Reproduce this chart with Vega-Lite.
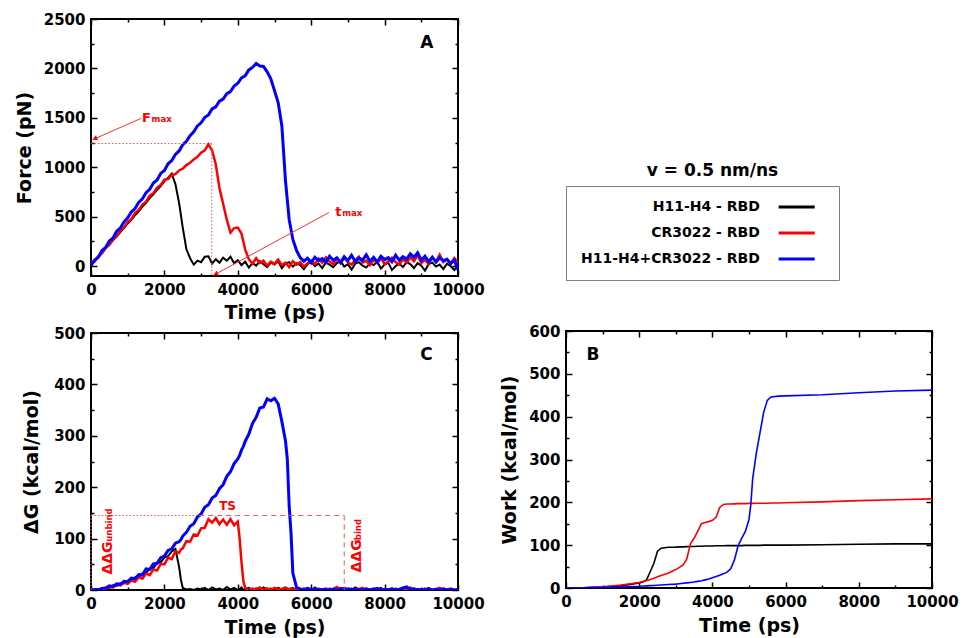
{
 "$schema": "https://vega.github.io/schema/vega-lite/v6.json",
 "padding": {"left": 14, "top": 11, "right": 5, "bottom": 2},
 "background": "white",
 "config": {
  "font": "DejaVu Sans",
  "view": {"stroke": "black", "strokeWidth": 2},
  "axis": {"grid": false, "domain": false, "labelFont": "DejaVu Sans", "labelFontWeight": "bold", "labelFontSize": 15, "labelColor": "black", "titleFont": "DejaVu Sans", "titleFontWeight": "bold", "titleFontSize": 19, "titleColor": "black", "tickColor": "black", "tickWidth": 1.5, "labelFlush": false, "labelOverlap": false, "labelPadding": 12},
  "text": {"font": "DejaVu Sans", "fontWeight": "bold"},
  "title": {"font": "DejaVu Sans", "fontWeight": "bold", "color": "black"}
 },
 "datasets": {
  "force": [
   {"t":0,"h11":10,"cr":35,"both":5},{"t":100,"h11":50,"cr":48,"both":62},{"t":200,"h11":95,"cr":100,"both":90},{"t":300,"h11":135,"cr":128,"both":158},{"t":400,"h11":180,"cr":185,"both":190},{"t":500,"h11":218,"cr":215,"both":255},{"t":600,"h11":262,"cr":272,"both":285},{"t":700,"h11":302,"cr":300,"both":352},{"t":800,"h11":345,"cr":362,"both":385},{"t":900,"h11":385,"cr":392,"both":448},
   {"t":1000,"h11":432,"cr":448,"both":488},{"t":1100,"h11":468,"cr":478,"both":548},{"t":1200,"h11":515,"cr":540,"both":582},{"t":1300,"h11":555,"cr":568,"both":645},{"t":1400,"h11":602,"cr":622,"both":680},{"t":1500,"h11":640,"cr":652,"both":742},{"t":1600,"h11":688,"cr":712,"both":778},{"t":1700,"h11":725,"cr":738,"both":840},{"t":1800,"h11":772,"cr":795,"both":872},{"t":1900,"h11":810,"cr":820,"both":938},
   {"t":2000,"h11":858,"cr":875,"both":968},{"t":2100,"h11":895,"cr":880,"both":1035},{"t":2200,"h11":935,"cr":922,"both":1068},{"t":2300,"h11":830,"cr":930,"both":1130},{"t":2400,"h11":640,"cr":968,"both":1165},{"t":2500,"h11":390,"cr":985,"both":1228},{"t":2600,"h11":170,"cr":1022,"both":1262},{"t":2700,"h11":80,"cr":1045,"both":1320},{"t":2800,"h11":15,"cr":1080,"both":1358},{"t":2900,"h11":55,"cr":1105,"both":1418},
   {"t":3000,"h11":40,"cr":1148,"both":1450},{"t":3100,"h11":95,"cr":1172,"both":1505},{"t":3200,"h11":100,"cr":1232,"both":1530},{"t":3300,"h11":25,"cr":1170,"both":1590},{"t":3400,"h11":70,"cr":1030,"both":1612},{"t":3500,"h11":35,"cr":790,"both":1668},{"t":3600,"h11":85,"cr":630,"both":1690},{"t":3700,"h11":55,"cr":470,"both":1745},{"t":3800,"h11":95,"cr":340,"both":1765},{"t":3900,"h11":30,"cr":385,"both":1822},
   {"t":4000,"h11":60,"cr":390,"both":1850},{"t":4100,"h11":10,"cr":330,"both":1905},{"t":4200,"h11":45,"cr":170,"both":1925},{"t":4300,"h11":-15,"cr":70,"both":1985},{"t":4400,"h11":30,"cr":25,"both":2010},{"t":4500,"h11":5,"cr":80,"both":2050},{"t":4600,"h11":50,"cr":30,"both":2025},{"t":4700,"h11":20,"cr":55,"both":2020},{"t":4800,"h11":-10,"cr":5,"both":1965},{"t":4900,"h11":35,"cr":45,"both":1895},
   {"t":5000,"h11":15,"cr":20,"both":1775},{"t":5100,"h11":50,"cr":65,"both":1655},{"t":5200,"h11":-20,"cr":10,"both":1420},{"t":5300,"h11":25,"cr":35,"both":860},{"t":5400,"h11":40,"cr":-10,"both":470},{"t":5500,"h11":-5,"cr":50,"both":270},{"t":5600,"h11":30,"cr":15,"both":160},{"t":5700,"h11":10,"cr":40,"both":85},{"t":5800,"h11":-30,"cr":-5,"both":50},{"t":5900,"h11":20,"cr":30,"both":80},
   {"t":6000,"h11":45,"cr":55,"both":35},{"t":6100,"h11":0,"cr":20,"both":90},{"t":6200,"h11":25,"cr":75,"both":55},{"t":6300,"h11":-20,"cr":35,"both":75},{"t":6400,"h11":35,"cr":90,"both":40},{"t":6500,"h11":15,"cr":45,"both":100},{"t":6600,"h11":-10,"cr":20,"both":60},{"t":6700,"h11":30,"cr":70,"both":85},{"t":6800,"h11":50,"cr":30,"both":35},{"t":6900,"h11":-5,"cr":85,"both":95},
   {"t":7000,"h11":20,"cr":40,"both":55},{"t":7100,"h11":-35,"cr":15,"both":110},{"t":7200,"h11":25,"cr":60,"both":45},{"t":7300,"h11":40,"cr":95,"both":80},{"t":7400,"h11":5,"cr":35,"both":60},{"t":7500,"h11":-15,"cr":55,"both":115},{"t":7600,"h11":30,"cr":10,"both":50},{"t":7700,"h11":10,"cr":65,"both":90},{"t":7800,"h11":45,"cr":30,"both":40},{"t":7900,"h11":-25,"cr":80,"both":100},
   {"t":8000,"h11":15,"cr":20,"both":65},{"t":8100,"h11":35,"cr":50,"both":85},{"t":8200,"h11":-40,"cr":85,"both":45},{"t":8300,"h11":0,"cr":40,"both":110},{"t":8400,"h11":25,"cr":15,"both":60},{"t":8500,"h11":-10,"cr":70,"both":95},{"t":8600,"h11":40,"cr":35,"both":70},{"t":8700,"h11":20,"cr":90,"both":125},{"t":8800,"h11":-20,"cr":50,"both":90},{"t":8900,"h11":30,"cr":110,"both":135},
   {"t":9000,"h11":5,"cr":30,"both":60},{"t":9100,"h11":-45,"cr":65,"both":100},{"t":9200,"h11":20,"cr":20,"both":45},{"t":9300,"h11":35,"cr":85,"both":90},{"t":9400,"h11":-5,"cr":45,"both":40},{"t":9500,"h11":15,"cr":115,"both":85},{"t":9600,"h11":-30,"cr":40,"both":55},{"t":9700,"h11":25,"cr":70,"both":70},{"t":9800,"h11":0,"cr":25,"both":25},{"t":9900,"h11":-40,"cr":80,"both":60},
   {"t":10000,"h11":10,"cr":35,"both":-40}
  ],
  "dg": [
   {"t":0,"h11":0,"cr":0,"both":0},{"t":100,"h11":0,"cr":0,"both":1},{"t":200,"h11":2,"cr":0,"both":0},{"t":300,"h11":1,"cr":3,"both":3},{"t":400,"h11":5,"cr":2,"both":4},{"t":500,"h11":4,"cr":6,"both":8},{"t":600,"h11":9,"cr":5,"both":7},{"t":700,"h11":8,"cr":10,"both":12},{"t":800,"h11":13,"cr":9,"both":11},{"t":900,"h11":13,"cr":14,"both":17},
   {"t":1000,"h11":18,"cr":12,"both":16},{"t":1100,"h11":19,"cr":19,"both":23},{"t":1200,"h11":25,"cr":16,"both":22},{"t":1300,"h11":25,"cr":25,"both":30},{"t":1400,"h11":32,"cr":22,"both":29},{"t":1500,"h11":33,"cr":32,"both":41},{"t":1600,"h11":41,"cr":29,"both":40},{"t":1700,"h11":43,"cr":40,"both":51},{"t":1800,"h11":52,"cr":38,"both":52},{"t":1900,"h11":54,"cr":51,"both":63},
   {"t":2000,"h11":63,"cr":50,"both":66},{"t":2100,"h11":66,"cr":63,"both":77},{"t":2200,"h11":75,"cr":60,"both":80},{"t":2300,"h11":80,"cr":75,"both":91},{"t":2400,"h11":45,"cr":72,"both":94},{"t":2450,"h11":20,"cr":79,"both":98},{"t":2500,"h11":4,"cr":81,"both":105},{"t":2600,"h11":1,"cr":95,"both":112},{"t":2700,"h11":2,"cr":94,"both":124},{"t":2800,"h11":0,"cr":108,"both":129},{"t":2900,"h11":3,"cr":106,"both":142},
   {"t":3000,"h11":1,"cr":120,"both":148},{"t":3100,"h11":4,"cr":121,"both":161},{"t":3200,"h11":0,"cr":138,"both":166},{"t":3300,"h11":5,"cr":131,"both":179},{"t":3400,"h11":1,"cr":140,"both":184},{"t":3500,"h11":3,"cr":128,"both":197},{"t":3600,"h11":0,"cr":137,"both":205},{"t":3700,"h11":6,"cr":127,"both":221},{"t":3800,"h11":1,"cr":138,"both":230},{"t":3900,"h11":4,"cr":126,"both":246},
   {"t":4000,"h11":0,"cr":133,"both":255},{"t":4050,"h11":2,"cr":100,"both":262},{"t":4100,"h11":5,"cr":55,"both":272},{"t":4150,"h11":0,"cr":18,"both":279},{"t":4200,"h11":1,"cr":4,"both":289},{"t":4300,"h11":4,"cr":0,"both":303},{"t":4400,"h11":0,"cr":3,"both":324},{"t":4500,"h11":3,"cr":1,"both":336},{"t":4600,"h11":0,"cr":5,"both":354},{"t":4700,"h11":5,"cr":0,"both":356},{"t":4800,"h11":1,"cr":3,"both":372},{"t":4900,"h11":3,"cr":0,"both":368},
   {"t":5000,"h11":0,"cr":4,"both":373},{"t":5100,"h11":4,"cr":1,"both":362},{"t":5200,"h11":1,"cr":2,"both":328},{"t":5300,"h11":0,"cr":5,"both":290},{"t":5350,"h11":3,"cr":0,"both":254},{"t":5400,"h11":1,"cr":2,"both":163},{"t":5450,"h11":0,"cr":3,"both":111},{"t":5500,"h11":4,"cr":0,"both":33},{"t":5600,"h11":0,"cr":2,"both":5},{"t":5700,"h11":2,"cr":0,"both":2},{"t":5800,"h11":0,"cr":3,"both":0},{"t":5900,"h11":3,"cr":1,"both":3},
   {"t":6000,"h11":0,"cr":0,"both":1},{"t":6100,"h11":5,"cr":2,"both":0},{"t":6200,"h11":0,"cr":0,"both":2},{"t":6300,"h11":2,"cr":1,"both":0},{"t":6400,"h11":0,"cr":3,"both":1},{"t":6500,"h11":3,"cr":0,"both":0},{"t":6600,"h11":1,"cr":2,"both":2},{"t":6700,"h11":0,"cr":6,"both":0},{"t":6800,"h11":4,"cr":1,"both":1},{"t":6900,"h11":0,"cr":0,"both":3},
   {"t":7000,"h11":2,"cr":3,"both":0},{"t":7100,"h11":0,"cr":1,"both":2},{"t":7200,"h11":5,"cr":0,"both":0},{"t":7300,"h11":1,"cr":2,"both":1},{"t":7400,"h11":0,"cr":4,"both":0},{"t":7500,"h11":3,"cr":0,"both":2},{"t":7600,"h11":0,"cr":1,"both":0},{"t":7700,"h11":2,"cr":3,"both":1},{"t":7800,"h11":0,"cr":0,"both":3},{"t":7900,"h11":4,"cr":2,"both":0},
   {"t":8000,"h11":0,"cr":1,"both":1},{"t":8100,"h11":2,"cr":0,"both":0},{"t":8200,"h11":0,"cr":3,"both":2},{"t":8300,"h11":3,"cr":0,"both":0},{"t":8400,"h11":1,"cr":2,"both":1},{"t":8500,"h11":0,"cr":0,"both":4},{"t":8600,"h11":2,"cr":1,"both":6},{"t":8700,"h11":0,"cr":5,"both":1},{"t":8800,"h11":3,"cr":0,"both":2},{"t":8900,"h11":0,"cr":2,"both":0},
   {"t":9000,"h11":2,"cr":0,"both":1},{"t":9100,"h11":0,"cr":3,"both":0},{"t":9200,"h11":4,"cr":1,"both":2},{"t":9300,"h11":0,"cr":0,"both":0},{"t":9400,"h11":2,"cr":2,"both":1},{"t":9500,"h11":0,"cr":4,"both":0},{"t":9600,"h11":3,"cr":0,"both":2},{"t":9700,"h11":0,"cr":1,"both":0},{"t":9800,"h11":1,"cr":3,"both":1},{"t":9900,"h11":0,"cr":0,"both":0},
   {"t":10000,"h11":2,"cr":1,"both":0}
  ],
  "work": [
   {"t":0,"h11":0,"cr":0,"both":0},{"t":500,"h11":0.5,"cr":1,"both":0.5},{"t":1000,"h11":2,"cr":3,"both":1.5},{"t":1500,"h11":5,"cr":7,"both":2.5},{"t":2000,"h11":12,"cr":13,"both":4},{"t":2100,"h11":14,"cr":15,"both":4.5},{"t":2200,"h11":19,"cr":17,"both":5},{"t":2300,"h11":38,"cr":20,"both":5.5},{"t":2400,"h11":57,"cr":23,"both":6},{"t":2500,"h11":86,"cr":26,"both":6.5},{"t":2600,"h11":93,"cr":29,"both":7},{"t":2800,"h11":95,"cr":35,"both":8},
   {"t":3000,"h11":95.5,"cr":43,"both":9},{"t":3100,"h11":96,"cr":48,"both":10},{"t":3200,"h11":96,"cr":54,"both":11},{"t":3300,"h11":96.5,"cr":68,"both":12},{"t":3400,"h11":97,"cr":103,"both":13},{"t":3500,"h11":97,"cr":116,"both":14},{"t":3600,"h11":97.5,"cr":133,"both":15.5},{"t":3700,"h11":97.5,"cr":150,"both":17},{"t":3800,"h11":98,"cr":153,"both":19},{"t":3900,"h11":98,"cr":155,"both":21},
   {"t":4000,"h11":98,"cr":158,"both":24},{"t":4100,"h11":98.5,"cr":165,"both":27},{"t":4200,"h11":98.5,"cr":188,"both":30},{"t":4300,"h11":98.5,"cr":195,"both":33},{"t":4400,"h11":99,"cr":196,"both":37},{"t":4500,"h11":99,"cr":196,"both":45},{"t":4600,"h11":99,"cr":196.5,"both":65},{"t":4700,"h11":99,"cr":197,"both":98},{"t":4800,"h11":99,"cr":197,"both":116},{"t":4900,"h11":99.5,"cr":197,"both":132},
   {"t":5000,"h11":99.5,"cr":197.5,"both":160},{"t":5050,"h11":99.5,"cr":197.5,"both":195},{"t":5100,"h11":99.5,"cr":197.5,"both":255},{"t":5200,"h11":99.5,"cr":198,"both":315},{"t":5300,"h11":99.5,"cr":198,"both":362},{"t":5400,"h11":100,"cr":198,"both":410},{"t":5500,"h11":100,"cr":198,"both":438},{"t":5600,"h11":100,"cr":198.5,"both":446},{"t":5800,"h11":100,"cr":198.5,"both":448},
   {"t":6000,"h11":100,"cr":199,"both":448.5},{"t":7000,"h11":101,"cr":201,"both":451},{"t":8000,"h11":102,"cr":204,"both":456},{"t":9000,"h11":103,"cr":206,"both":460},{"t":10000,"h11":103,"cr":208,"both":462}
  ]
 },
 "hconcat": [
  {
   "vconcat": [
    {
     "width": 367, "height": 257,
     "layer": [
      {
       "data": {"name": "force"},
       "transform": [{"fold": ["h11", "cr", "both"], "as": ["series", "F"]}],
       "mark": {"type": "line", "clip": true},
       "encoding": {
        "x": {"field": "t", "type": "quantitative", "scale": {"domain": [0, 10000], "nice": false},
              "axis": {"orient": "bottom", "values": [0,1000,2000,3000,4000,5000,6000,7000,8000,9000,10000], "format": "d", "labelExpr": "datum.value % 2000 === 0 ? datum.label : ''", "tickSize": {"condition": {"test": "datum.value % 2000 === 0", "value": -6}, "value": -3}, "title": "Time (ps)", "titlePadding": 3}},
        "y": {"field": "F", "type": "quantitative", "scale": {"domain": [-100, 2500], "nice": false},
              "axis": {"orient": "left", "values": [0,250,500,750,1000,1250,1500,1750,2000,2250,2500], "format": "d", "labelExpr": "datum.value % 500 === 0 ? datum.label : ''", "tickSize": {"condition": {"test": "datum.value % 500 === 0", "value": -6}, "value": -3}, "title": "Force (pN)", "titlePadding": 9}},
        "color": {"field": "series", "type": "nominal", "scale": {"domain": ["h11", "cr", "both"], "range": ["#000000", "#ff0000", "#0000ff"]}, "legend": null},
        "strokeWidth": {"field": "series", "type": "nominal", "scale": {"domain": ["h11", "cr", "both"], "range": [2, 3, 3.6]}, "legend": null}
       }
      },
      {
       "data": {"values": [{"t": 0, "F": 1240, "t2": 3290, "F2": 1240}, {"t": 3290, "F": 1240, "t2": 3290, "F2": -100}]},
       "mark": {"type": "rule", "color": "#ff5050", "strokeWidth": 1, "strokeDash": [1.5, 2]},
       "encoding": {
        "x": {"field": "t", "type": "quantitative", "scale": {"domain": [0, 10000], "nice": false},
              "axis": {"orient": "top", "values": [0,1000,2000,3000,4000,5000,6000,7000,8000,9000,10000], "labels": false, "tickSize": {"condition": {"test": "datum.value % 2000 === 0", "value": -6}, "value": -3}, "title": null}},
        "y": {"field": "F", "type": "quantitative", "scale": {"domain": [-100, 2500], "nice": false},
              "axis": {"orient": "right", "values": [0,250,500,750,1000,1250,1500,1750,2000,2250,2500], "labels": false, "tickSize": {"condition": {"test": "datum.value % 500 === 0", "value": -6}, "value": -3}, "title": null}},
        "x2": {"field": "t2"},
        "y2": {"field": "F2"}
       }
      },
      {
       "data": {"values": [{}]},
       "mark": {"type": "rule", "color": "#ff3030", "strokeWidth": 1},
       "encoding": {
        "x": {"datum": 1363, "type": "quantitative", "scale": {"domain": [0, 10000], "nice": false}, "axis": null},
        "y": {"datum": 1494, "type": "quantitative", "scale": {"domain": [-100, 2500], "nice": false}, "axis": null},
        "x2": {"datum": 46}, "y2": {"datum": 1280}
       }
      },
      {
       "data": {"values": [{}]},
       "mark": {"type": "rule", "color": "#ff3030", "strokeWidth": 1},
       "encoding": {
        "x": {"datum": 6482, "type": "quantitative", "scale": {"domain": [0, 10000], "nice": false}, "axis": null},
        "y": {"datum": 542, "type": "quantitative", "scale": {"domain": [-100, 2500], "nice": false}, "axis": null},
        "x2": {"datum": 3346}, "y2": {"datum": -91}
       }
      },
      {
       "data": {"values": [{}]},
       "mark": {"type": "point", "shape": "triangle", "filled": true, "color": "#ff0000", "size": 30, "angle": 246.5, "opacity": 1},
       "encoding": {
        "x": {"datum": 123, "type": "quantitative", "scale": {"domain": [0, 10000], "nice": false}, "axis": null},
        "y": {"datum": 1293, "type": "quantitative", "scale": {"domain": [-100, 2500], "nice": false}, "axis": null}
       }
      },
      {
       "data": {"values": [{}]},
       "mark": {"type": "point", "shape": "triangle", "filled": true, "color": "#ff0000", "size": 30, "angle": 241.6, "opacity": 1},
       "encoding": {
        "x": {"datum": 3417, "type": "quantitative", "scale": {"domain": [0, 10000], "nice": false}, "axis": null},
        "y": {"datum": -77, "type": "quantitative", "scale": {"domain": [-100, 2500], "nice": false}, "axis": null}
       }
      },
      {
       "data": {"values": [{}]},
       "mark": {"type": "text", "text": "F", "color": "#ff0000", "fontSize": 13, "align": "left", "baseline": "alphabetic"},
       "encoding": {
        "x": {"datum": 1391, "type": "quantitative", "scale": {"domain": [0, 10000], "nice": false}, "axis": null},
        "y": {"datum": 1463, "type": "quantitative", "scale": {"domain": [-100, 2500], "nice": false}, "axis": null}
       }
      },
      {
       "data": {"values": [{}]},
       "mark": {"type": "text", "text": "max", "color": "#ff0000", "fontSize": 8.5, "align": "left", "baseline": "alphabetic"},
       "encoding": {
        "x": {"datum": 1650, "type": "quantitative", "scale": {"domain": [0, 10000], "nice": false}, "axis": null},
        "y": {"datum": 1463, "type": "quantitative", "scale": {"domain": [-100, 2500], "nice": false}, "axis": null}
       }
      },
      {
       "data": {"values": [{}]},
       "mark": {"type": "text", "text": "t", "color": "#ff0000", "fontSize": 13, "align": "left", "baseline": "alphabetic"},
       "encoding": {
        "x": {"datum": 6654, "type": "quantitative", "scale": {"domain": [0, 10000], "nice": false}, "axis": null},
        "y": {"datum": 511, "type": "quantitative", "scale": {"domain": [-100, 2500], "nice": false}, "axis": null}
       }
      },
      {
       "data": {"values": [{}]},
       "mark": {"type": "text", "text": "max", "color": "#ff0000", "fontSize": 8.5, "align": "left", "baseline": "alphabetic"},
       "encoding": {
        "x": {"datum": 6845, "type": "quantitative", "scale": {"domain": [0, 10000], "nice": false}, "axis": null},
        "y": {"datum": 511, "type": "quantitative", "scale": {"domain": [-100, 2500], "nice": false}, "axis": null}
       }
      },
      {
       "data": {"values": [{}]},
       "mark": {"type": "text", "text": "A", "color": "black", "fontSize": 17, "align": "center", "baseline": "middle"},
       "encoding": {
        "x": {"datum": 9149, "type": "quantitative", "scale": {"domain": [0, 10000], "nice": false}, "axis": null},
        "y": {"datum": 2261, "type": "quantitative", "scale": {"domain": [-100, 2500], "nice": false}, "axis": null}
       }
      }
     ],
     "resolve": {"axis": {"x": "independent", "y": "independent"}}
    },
    {
     "width": 367, "height": 257,
     "layer": [
      {
       "data": {"name": "dg"},
       "transform": [{"fold": ["h11", "cr", "both"], "as": ["series", "G"]}],
       "mark": {"type": "line", "clip": true},
       "encoding": {
        "x": {"field": "t", "type": "quantitative", "scale": {"domain": [0, 10000], "nice": false},
              "axis": {"orient": "bottom", "values": [0,1000,2000,3000,4000,5000,6000,7000,8000,9000,10000], "format": "d", "labelExpr": "datum.value % 2000 === 0 ? datum.label : ''", "tickSize": {"condition": {"test": "datum.value % 2000 === 0", "value": -6}, "value": -3}, "title": "Time (ps)", "titlePadding": 4}},
        "y": {"field": "G", "type": "quantitative", "scale": {"domain": [0, 500], "nice": false},
              "axis": {"orient": "left", "values": [0,50,100,150,200,250,300,350,400,450,500], "format": "d", "labelExpr": "datum.value % 100 === 0 ? datum.label : ''", "tickSize": {"condition": {"test": "datum.value % 100 === 0", "value": -6}, "value": -3}, "title": "ΔG (kcal/mol)", "titlePadding": 12}},
        "color": {"field": "series", "type": "nominal", "scale": {"domain": ["h11", "cr", "both"], "range": ["#000000", "#ff0000", "#0000ff"]}, "legend": null},
        "strokeWidth": {"field": "series", "type": "nominal", "scale": {"domain": ["h11", "cr", "both"], "range": [1.5, 2.4, 2.2]}, "legend": null}
       }
      },
      {
       "data": {"values": [{"t": 0, "G": 0, "t2": 0, "G2": 145}, {"t": 0, "G": 145, "t2": 2950, "G2": 145}]},
       "mark": {"type": "rule", "color": "#ff5050", "strokeWidth": 1, "strokeDash": [1.5, 2]},
       "encoding": {
        "x": {"field": "t", "type": "quantitative", "scale": {"domain": [0, 10000], "nice": false},
              "axis": {"orient": "top", "values": [0,1000,2000,3000,4000,5000,6000,7000,8000,9000,10000], "labels": false, "tickSize": {"condition": {"test": "datum.value % 2000 === 0", "value": -6}, "value": -3}, "title": null}},
        "y": {"field": "G", "type": "quantitative", "scale": {"domain": [0, 500], "nice": false},
              "axis": {"orient": "right", "values": [0,50,100,150,200,250,300,350,400,450,500], "labels": false, "tickSize": {"condition": {"test": "datum.value % 100 === 0", "value": -6}, "value": -3}, "title": null}},
        "x2": {"field": "t2"},
        "y2": {"field": "G2"}
       }
      },
      {
       "data": {"values": [{"t": 2950, "G": 145, "t2": 6900, "G2": 145}, {"t": 6900, "G": 145, "t2": 6900, "G2": 0}]},
       "mark": {"type": "rule", "color": "#ff5050", "strokeWidth": 1, "strokeDash": [5, 4]},
       "encoding": {
        "x": {"field": "t", "type": "quantitative", "scale": {"domain": [0, 10000], "nice": false}, "axis": null},
        "y": {"field": "G", "type": "quantitative", "scale": {"domain": [0, 500], "nice": false}, "axis": null},
        "x2": {"field": "t2"},
        "y2": {"field": "G2"}
       }
      },
      {
       "data": {"values": [{}]},
       "mark": {"type": "text", "text": "TS", "color": "#ff0000", "fontSize": 12, "align": "center", "baseline": "middle"},
       "encoding": {
        "x": {"datum": 3721, "type": "quantitative", "scale": {"domain": [0, 10000], "nice": false}, "axis": null},
        "y": {"datum": 163, "type": "quantitative", "scale": {"domain": [0, 500], "nice": false}, "axis": null}
       }
      },
      {
       "data": {"values": [{}]},
       "mark": {"type": "text", "text": "ΔΔG", "color": "#ff0000", "fontSize": 14, "angle": 270, "align": "left", "baseline": "alphabetic"},
       "encoding": {
        "x": {"datum": 563, "type": "quantitative", "scale": {"domain": [0, 10000], "nice": false}, "axis": null},
        "y": {"datum": 30, "type": "quantitative", "scale": {"domain": [0, 500], "nice": false}, "axis": null}
       }
      },
      {
       "data": {"values": [{}]},
       "mark": {"type": "text", "text": "unbind", "color": "#ff0000", "fontSize": 8.5, "angle": 270, "align": "left", "baseline": "alphabetic"},
       "encoding": {
        "x": {"datum": 563, "type": "quantitative", "scale": {"domain": [0, 10000], "nice": false}, "axis": null},
        "y": {"datum": 94, "type": "quantitative", "scale": {"domain": [0, 500], "nice": false}, "axis": null}
       }
      },
      {
       "data": {"values": [{}]},
       "mark": {"type": "text", "text": "ΔΔG", "color": "#ff0000", "fontSize": 14, "angle": 270, "align": "left", "baseline": "alphabetic"},
       "encoding": {
        "x": {"datum": 7368, "type": "quantitative", "scale": {"domain": [0, 10000], "nice": false}, "axis": null},
        "y": {"datum": 34, "type": "quantitative", "scale": {"domain": [0, 500], "nice": false}, "axis": null}
       }
      },
      {
       "data": {"values": [{}]},
       "mark": {"type": "text", "text": "bind", "color": "#ff0000", "fontSize": 8.5, "angle": 270, "align": "left", "baseline": "alphabetic"},
       "encoding": {
        "x": {"datum": 7368, "type": "quantitative", "scale": {"domain": [0, 10000], "nice": false}, "axis": null},
        "y": {"datum": 97, "type": "quantitative", "scale": {"domain": [0, 500], "nice": false}, "axis": null}
       }
      },
      {
       "data": {"values": [{}]},
       "mark": {"type": "text", "text": "C", "color": "black", "fontSize": 17, "align": "center", "baseline": "middle"},
       "encoding": {
        "x": {"datum": 9140, "type": "quantitative", "scale": {"domain": [0, 10000], "nice": false}, "axis": null},
        "y": {"datum": 458, "type": "quantitative", "scale": {"domain": [0, 500], "nice": false}, "axis": null}
       }
      }
     ],
     "resolve": {"axis": {"x": "independent", "y": "independent"}}
    }
   ],
   "spacing": 57,
   "bounds": "flush"
  },
  {
   "vconcat": [
    {
     "width": 273, "height": 116,
     "view": {"stroke": null},
     "data": {"values": []},
     "mark": "point"
    },
    {
     "width": 273, "height": 94,
     "view": {"stroke": "#808080", "strokeWidth": 1},
     "title": {"text": "v = 0.5 nm/ns", "fontSize": 17, "anchor": "middle", "dx": 10, "offset": 6},
     "data": {"values": [{"series": "h11", "label": "H11-H4 - RBD"}, {"series": "cr", "label": "CR3022 - RBD"}, {"series": "both", "label": "H11-H4+CR3022 - RBD"}]},
     "layer": [
      {
       "mark": {"type": "text", "align": "right", "baseline": "middle", "fontSize": 14, "color": "black"},
       "encoding": {
        "x": {"datum": 0.71, "type": "quantitative", "scale": {"domain": [0, 1]}, "axis": null},
        "y": {"field": "label", "type": "nominal", "scale": {"type": "point", "domain": ["H11-H4 - RBD", "CR3022 - RBD", "H11-H4+CR3022 - RBD"], "padding": 0.81}, "axis": null},
        "text": {"field": "label"}
       }
      },
      {
       "mark": {"type": "rule", "strokeWidth": 3},
       "encoding": {
        "x": {"datum": 0.779, "type": "quantitative", "scale": {"domain": [0, 1]}, "axis": null},
        "x2": {"datum": 0.911},
        "y": {"field": "label", "type": "nominal", "scale": {"type": "point", "domain": ["H11-H4 - RBD", "CR3022 - RBD", "H11-H4+CR3022 - RBD"], "padding": 0.81}, "axis": null},
        "color": {"field": "series", "type": "nominal", "scale": {"domain": ["h11", "cr", "both"], "range": ["#000000", "#ff0000", "#0000ff"]}, "legend": null}
       }
      }
     ]
    },
    {
     "width": 366, "height": 257,
     "layer": [
      {
       "data": {"name": "work"},
       "transform": [{"fold": ["h11", "cr", "both"], "as": ["series", "W"]}],
       "mark": {"type": "line", "strokeWidth": 1.6, "clip": true},
       "encoding": {
        "x": {"field": "t", "type": "quantitative", "scale": {"domain": [0, 10000], "nice": false},
              "axis": {"orient": "bottom", "values": [0,1000,2000,3000,4000,5000,6000,7000,8000,9000,10000], "format": "d", "labelExpr": "datum.value % 2000 === 0 ? datum.label : ''", "tickSize": {"condition": {"test": "datum.value % 2000 === 0", "value": -6}, "value": -3}, "title": "Time (ps)", "titlePadding": 4}},
        "y": {"field": "W", "type": "quantitative", "scale": {"domain": [0, 600], "nice": false},
              "axis": {"orient": "left", "values": [0,50,100,150,200,250,300,350,400,450,500,550,600], "format": "d", "labelExpr": "datum.value % 100 === 0 ? datum.label : ''", "tickSize": {"condition": {"test": "datum.value % 100 === 0", "value": -6}, "value": -3}, "title": "Work (kcal/mol)", "titlePadding": 9}},
        "color": {"field": "series", "type": "nominal", "scale": {"domain": ["h11", "cr", "both"], "range": ["#000000", "#ff0000", "#0000ff"]}, "legend": null}
       }
      },
      {
       "data": {"name": "work"},
       "mark": {"type": "point", "opacity": 0},
       "encoding": {
        "x": {"aggregate": "min", "field": "t", "type": "quantitative", "scale": {"domain": [0, 10000], "nice": false},
              "axis": {"orient": "top", "values": [0,1000,2000,3000,4000,5000,6000,7000,8000,9000,10000], "labels": false, "tickSize": {"condition": {"test": "datum.value % 2000 === 0", "value": -6}, "value": -3}, "title": null}},
        "y": {"aggregate": "min", "field": "h11", "type": "quantitative", "scale": {"domain": [0, 600], "nice": false},
              "axis": {"orient": "right", "values": [0,50,100,150,200,250,300,350,400,450,500,550,600], "labels": false, "tickSize": {"condition": {"test": "datum.value % 100 === 0", "value": -6}, "value": -3}, "title": null}}
       }
      },
      {
       "data": {"values": [{}]},
       "mark": {"type": "text", "text": "B", "color": "black", "fontSize": 17, "align": "center", "baseline": "middle"},
       "encoding": {
        "x": {"datum": 738, "type": "quantitative", "scale": {"domain": [0, 10000], "nice": false}, "axis": null},
        "y": {"datum": 544, "type": "quantitative", "scale": {"domain": [0, 600], "nice": false}, "axis": null}
       }
      }
     ],
     "resolve": {"axis": {"x": "independent", "y": "independent"}}
    }
   ],
   "spacing": 51,
   "bounds": "flush"
  }
 ],
 "spacing": 13,
 "bounds": "full"
}
